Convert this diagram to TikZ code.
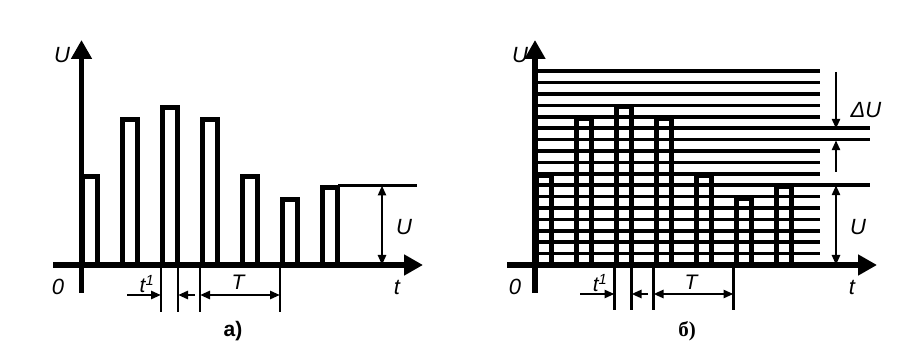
\documentclass[tikz,border=0pt]{standalone}
\usepackage{fontspec}
\setmainfont{Liberation Sans}
\newfontfamily\capserif{Liberation Serif}
\usetikzlibrary{arrows.meta}

\begin{document}
\begin{tikzpicture}[x=1pt, y=-1pt,
    axis/.style={line width=5.5pt, -{Triangle[length=19pt,width=20pt]}},
    pulse/.style={line width=5pt},
    level/.style={line width=3.6pt},
    thinline/.style={line width=2.6pt},
    dimarr/.style={line width=2.6pt, -{Triangle[length=10pt,width=8pt]}},
    dimboth/.style={line width=2.6pt, {Triangle[length=10pt,width=8pt]}-{Triangle[length=10pt,width=8pt]}},
    lbl/.style={font=\fontsize{22}{22}\selectfont\itshape, inner sep=0pt},
    sublbl/.style={font=\fontsize{21}{21}\selectfont\itshape, inner sep=0pt},
    caption/.style={font=\fontsize{21}{21}\selectfont\bfseries, inner sep=0pt}]
\useasboundingbox (0,0) rectangle (904,344);

% a)
\coordinate (aytop) at (81.5,40);
\coordinate (aybot) at (81.5,293);
\coordinate (axl)   at (53,265);
\coordinate (axr)   at (423,265);
\draw[axis] (aybot) -- (aytop);
\draw[axis] (axl) -- (axr);

\foreach \i/\h in {0/8,1/13,2/14,3/13,4/8,5/6,6/7}
    \draw[pulse] (82.5+40*\i,265) -- ++(0,-11.4*\h+2.5) -- ++(14.5,0) -- ++(0,11.4*\h-2.5);

\coordinate (aref1) at (338,185.5);
\coordinate (aref2) at (417,185.5);
\draw[thinline] (aref1) -- (aref2);
\coordinate (audtop) at (382,185.5);
\coordinate (audbot) at (382,265);
\draw[dimboth] (audtop) -- (audbot);

\foreach \n/\x in {1/161,2/178,3/200,4/280}{
    \coordinate (atk\n)  at (\x,265);
    \coordinate (atkb\n) at (\x,312);
    \draw[thinline] (atk\n) -- (atkb\n);
}
\coordinate (atl)  at (127,295);
\coordinate (at1)  at (161,295);
\coordinate (at2)  at (178,295);
\coordinate (atr)  at (195,295);
\coordinate (aT1)  at (200,295);
\coordinate (aT2)  at (280,295);
\draw[dimarr] (atl) -- (at1);
\draw[dimarr] (atr) -- (at2);
\draw[dimboth] (aT1) -- (aT2);

\node[lbl] (Uaxa) at (62,55)  {U};
\node[lbl] (zeroa) at (58,287) {0};
\node[lbl] (taxa) at (397,287) {t};
\node[lbl] (Ua)   at (404,227) {U};
\node[sublbl] (t1a) at (147,284) {t\textsuperscript{1}};
\node[sublbl] (Ta)  at (238,282) {T};
\node[caption] (capa) at (233,331) {а)};

% b)
\foreach \k in {1,...,17}
    \draw[level] (535,265-11.4*\k) -- (820,265-11.4*\k);
\foreach \k in {7,11,12}
    \draw[level] (820,265-11.4*\k) -- (870,265-11.4*\k);

\coordinate (bytop) at (535,40);
\coordinate (bybot) at (535,293);
\coordinate (bxl)   at (507,265);
\coordinate (bxr)   at (877,265);
\draw[axis] (bybot) -- (bytop);
\draw[axis] (bxl) -- (bxr);

\foreach \i/\h in {0/8,1/13,2/14,3/13,4/8,5/6,6/7}
    \draw[pulse] (536+40*\i,265) -- ++(0,-11.4*\h+1.5) -- ++(15,0) -- ++(0,11.4*\h-1.5);

\coordinate (bdtop)  at (836,72);
\coordinate (bdup)   at (836,128.8);
\coordinate (bdlow)  at (836,140.2);
\coordinate (bdbot)  at (836,172);
\draw[dimarr] (bdtop) -- (bdup);
\draw[dimarr] (bdbot) -- (bdlow);
\coordinate (budtop) at (836,185.2);
\coordinate (budbot) at (836,265);
\draw[dimboth] (budtop) -- (budbot);

\foreach \n/\x in {1/614.5,2/631.5,3/653.5,4/733.5}{
    \coordinate (btk\n)  at (\x,265);
    \coordinate (btkb\n) at (\x,310);
    \draw[thinline] (btk\n) -- (btkb\n);
}
\coordinate (btl)  at (580,294);
\coordinate (bt1)  at (614.5,294);
\coordinate (bt2)  at (631.5,294);
\coordinate (btr)  at (648,294);
\coordinate (bT1)  at (653.5,294);
\coordinate (bT2)  at (733.5,294);
\draw[dimarr] (btl) -- (bt1);
\draw[dimarr] (btr) -- (bt2);
\draw[dimboth] (bT1) -- (bT2);

\node[lbl] (Uaxb) at (520,55)  {U};
\node[lbl] (zerob) at (515,287) {0};
\node[lbl] (taxb) at (852,287) {t};
\node[lbl] (Ub)   at (858,227) {U};
\node[lbl] (dUb)  at (866,110) {ΔU};
\node[sublbl] (t1b) at (600,283) {t\textsuperscript{1}};
\node[sublbl] (Tb)  at (691,282) {T};
\node[caption, font=\fontsize{21}{21}\selectfont\capserif\bfseries] (capb) at (687,331) {б)};
\end{tikzpicture}
\end{document}
